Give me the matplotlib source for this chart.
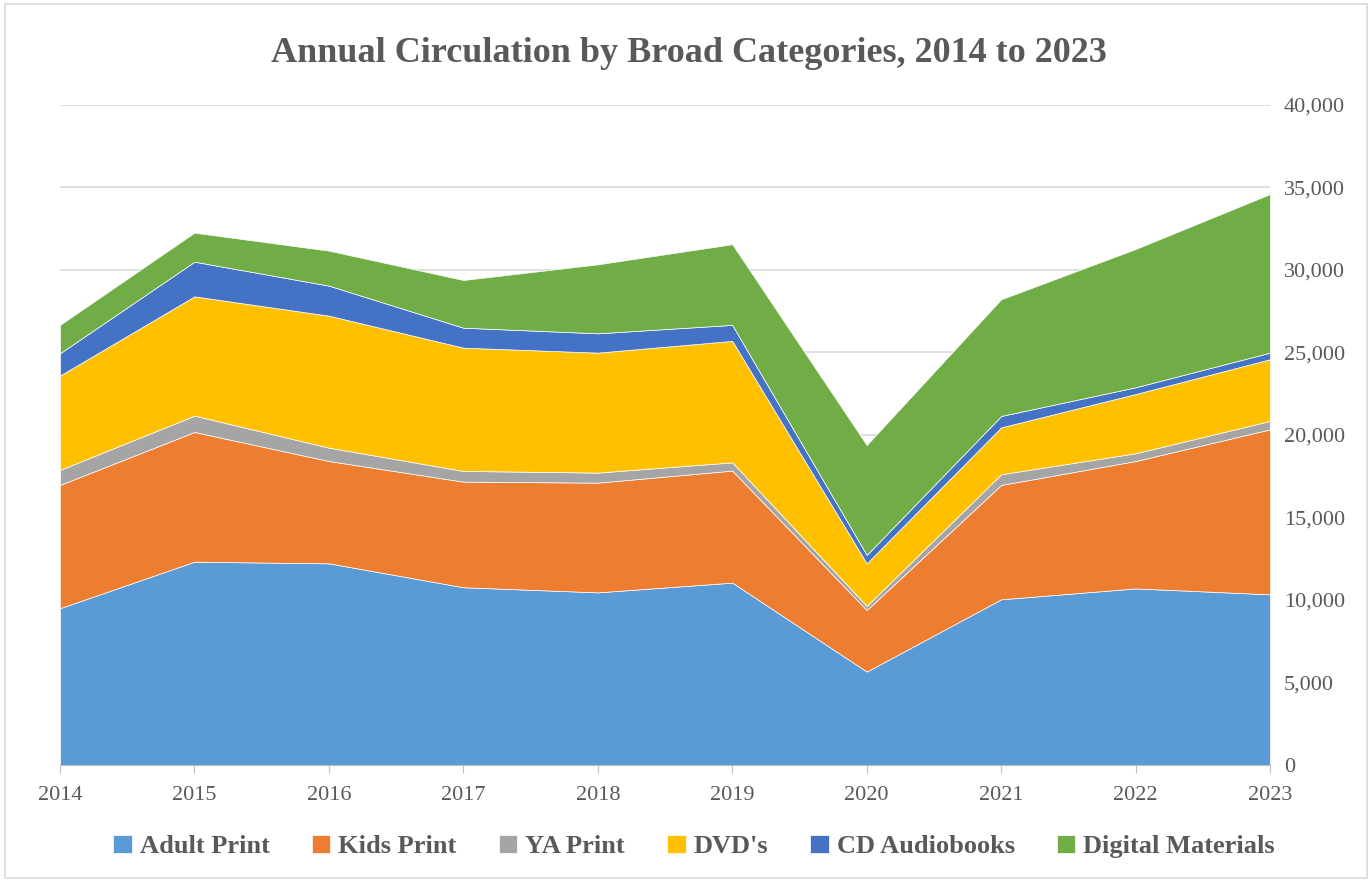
import matplotlib.pyplot as plt
from matplotlib.patches import Rectangle
from matplotlib.ticker import FuncFormatter

years = [2014, 2015, 2016, 2017, 2018, 2019, 2020, 2021, 2022, 2023]
adult = [9500, 12320, 12220, 10770, 10460, 11050, 5660, 10040, 10700, 10340]
kids = [7470, 7860, 6200, 6400, 6650, 6790, 3730, 6930, 7720, 10000]
ya = [910, 990, 810, 650, 610, 500, 250, 650, 470, 510]
dvd = [5720, 7230, 8000, 7470, 7270, 7360, 2580, 2840, 3590, 3740]
cd = [1350, 2100, 1820, 1210, 1170, 970, 510, 690, 410, 400]
digital = [1720, 1760, 2120, 2890, 4180, 4890, 6660, 7070, 8380, 9610]

labels = ['Adult Print', 'Kids Print', 'YA Print', "DVD's", 'CD Audiobooks', 'Digital Materials']
colors = ['#5B9BD5', '#ED7D31', '#A5A5A5', '#FFC000', '#4472C4', '#70AD47']

plt.rcParams['font.family'] = ['Liberation Serif', 'DejaVu Serif']
txt = '#595959'

fig = plt.figure(figsize=(13.72, 8.82), dpi=100)
ax = fig.add_axes([0.0437, 0.1327, 0.882, 0.7483])

ax.stackplot(years, adult, kids, ya, dvd, cd, digital, labels=labels, colors=colors,
             linewidth=0.5, edgecolor='white', zorder=2)

ax.set_xlim(2014, 2023)
ax.set_ylim(0, 40000)
ax.set_xticks(years)
ax.set_yticks(range(0, 40001, 5000))
ax.yaxis.set_major_formatter(FuncFormatter(lambda v, p: f'{int(v):,}'))
ax.yaxis.tick_right()
ax.grid(axis='y', color='#D9D9D9', linewidth=1.2, zorder=0)
ax.set_axisbelow(True)
for s in ['top', 'left', 'right']:
    ax.spines[s].set_visible(False)
ax.spines['bottom'].set_color('#BFBFBF')
ax.tick_params(axis='y', length=0, labelsize=16, labelcolor=txt, pad=10)
ax.tick_params(axis='x', length=6, color='#BFBFBF', labelsize=16, labelcolor=txt, pad=9)

fig.text(0.502, 0.939, 'Annual Circulation by Broad Categories, 2014 to 2023', fontsize=26,
         fontweight='bold', color=txt, ha='center', va='center')

leg = fig.legend(loc='center', bbox_to_anchor=(0.506, 0.04), ncol=6, frameon=False,
                 fontsize=19, handlelength=0.7, handleheight=0.7, handletextpad=0.3,
                 columnspacing=1.6)
for t in leg.get_texts():
    t.set_color(txt)
    t.set_fontweight('bold')

fig.patches.append(Rectangle((0.004, 0.004), 0.992, 0.992, transform=fig.transFigure,
                             fill=False, edgecolor='#D9D9D9', linewidth=1.2))

fig.savefig('out.png', dpi=100)
